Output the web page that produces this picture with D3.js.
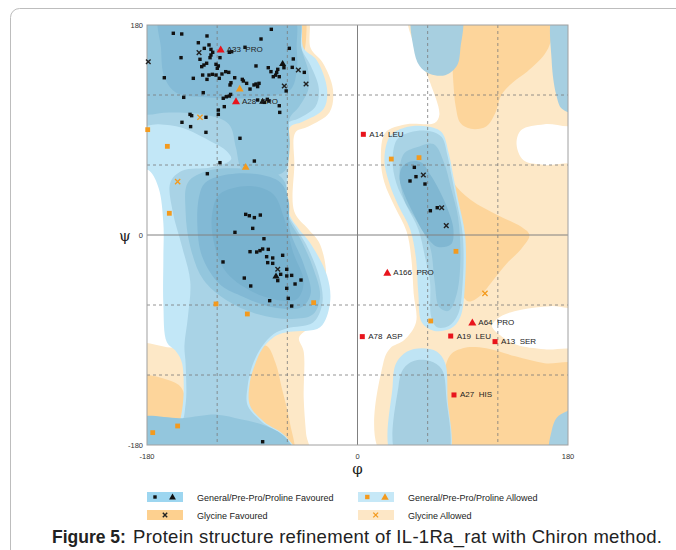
<!DOCTYPE html>
<html><head><meta charset="utf-8">
<script src="https://cdn.jsdelivr.net/npm/d3@7"></script>
<style>
body{margin:0;background:#fff;}
svg{font-family:"Liberation Sans",Arial,sans-serif;}
.lbl{white-space:pre;}
</style></head><body>
<svg id="chart" width="676" height="550"></svg>
<script>
// ---------- data (phi, psi in degrees) ----------
const generalFavoured = [
 [-157.5,172.9],[-150.3,172.3],[-128.7,170.6],[-73.7,176.3],[-136.1,164.8],[-82.5,168],[-127,162.9],[-131,160],
 [-125.3,159.1],[-123.8,156.6],[-150.9,152],[-134.7,150.6],[-125.3,154.3],[-126.1,152],[-96.2,160.9],
 [-109.6,156.6],[-107.6,157.1],[-117.6,152],[-131.3,145.7],[-133.2,144.3],[-129,147.2],[-121,146.3],[-119,144.9],
 [-119.9,142.9],[-112.7,140],[-115.9,138],[-110.1,139.4],[-132.4,137.1],[-127,137.1],[-124.1,137.7],[-121,137.1],
 [-118.2,134.3],[-165.2,134.8],[-140.4,134.3],[-128.7,133.4],[-105,134.8],[-108.2,130.5],[-109,128.6],
 [-98.5,133.4],[-97.6,132],[-94.8,130],[-88.5,128.6],[-86.8,129.4],[-85.4,127.2],[-84.2,130],[-91.9,125.1],
 [-131.9,122],[-148.6,118],[-112.2,118.5],[-109.6,119.1],[-108.5,120.5],[-114.8,117.2],[-113.9,110],[-119,107.1],
 [-85.4,115.7],[-79.7,113.7],[-77.1,116.3],[-75.8,114.8],[-66.9,110.8],[-66.5,105.1],[-61,123.5],
 [-58.3,160],[-54.9,150.9],[-55.8,143.7],[-45.5,139.4],[-76.3,143.4],[-74,140],[-72,135.7],[-70,137],
 [-69.1,139.4],[-66.9,135.7],[-68.2,142],[-62.9,143.4],[-86.8,144.9],[-143.2,103.4],[-141.8,102.3],[-129.6,100.9],
 [-150.1,96.6],[-142.7,92.9],[-129.6,88],[-119,103.4],[-100.5,82.9],[-117.6,62],[-88.2,63.4],[-128.4,52.5],
 [-95.6,17.7],[-92.5,16.5],[-88.2,14.9],[-83.1,17.1],[-89.6,5.7],[-104.8,2.3],[-80,-3.2],[-91.9,-14.3],
 [-86.2,-14.6],[-83.4,-13.4],[-81.1,-12],[-76.3,-12.3],[-77.7,-18.6],[-72.5,-19.7],[-76.8,-23.7],[-72.5,-24.3],
 [-64,-17.4],[-115,-23.1],[-96.8,-36.9],[-91.3,-43.7],[-65.7,-33.7],[-68.2,-39.1],[-60.5,-29.4],[-60.5,-35.1],
 [-56.3,-34.6],[-53.4,-42],[-48.3,-38.6],[-60.5,-45.7],[-59.2,-54.3],[-56.3,-60.9],[-75.1,-56.3],[-81.1,-177.2],
 [48.6,58],[50,50],[44.9,46.3],[57.7,43.7],[62.3,20.8],[68.2,23.4]
];
const prolineFavoured = [[-64,147.2],[-81.1,114.9],[-69.7,-34.9]];
const glycineFavoured = [[-178.9,148.5],[-135.5,156.3],[-62.6,127.7],[-50.6,141.4],[-44,129.4],[-68.2,-29.4],[56.3,51.4],[72,23.4],[75.9,8]];
const generalAllowed = [[-179.4,90.3],[-162.6,76],[-160.9,18.6],[-121,-59.1],[-94.2,-67.7],[-37.5,-58],[-153.8,-163.7],[-175.1,-169.4],[28.9,65.1],[52.6,66.3],[84.2,-14],[62.6,-73.7]];
const prolineAllowed = [[-100.7,125.7],[-95.6,58.5]];
const glycineAllowed = [[-134.7,100.9],[-153.8,45.7],[109,-50]];
const outlierSquares = [[5,86.3,"A14  LEU"],[4.1,-87.1,"A78  ASP"],[79.7,-86.6,"A19  LEU"],[117.6,-91.4,"A13  SER"],[82.5,-137.1,"A27  HIS"]];
const outlierTriangles = [[-117,159.1,"A33  PRO"],[-103.9,114.8,"A28  PRO"],[25.5,-32.3,"A166  PRO"],[98.2,-74.8,"A64  PRO"]];
const axisTicks = [-180,0,180];
const gridLines = [-120,-60,60,120];

// ---------- region outlines (phi, psi) ----------
const glyAllowedRight = [[45,190],[190,190],[190,96],[160,95],[140,90],[136,78],[142,64],[160,60],[190,58],[190,-60],[165,-61],[140,-64],[122,-70],[115,-78],[122,-86],[136,-94],[160,-98],[190,-101],[190,-190],[22,-190],[22,-110],[28,-97],[40,-90],[50,-75],[48,-50],[46,-20],[42,3],[32,24],[23,45],[20,65],[24,88],[42,95],[66,96],[70,103],[62,131],[51,157]];
const glyAllowedLeft = [[-190,-95],[-150,-95],[-120,-40],[-100,0],[-100,190],[-44,190],[-40,160],[-30,148],[-21,125],[-24,105],[-42,93],[-53,88],[-54,60],[-54,20],[-42,5],[-33,-6],[-27,-30],[-30,-60],[-40,-78],[-50,-88],[-46,-100],[-46,-140],[-44,-170],[-42,-190],[-190,-190]];
const glyFav = [
 [[81,190],[169,190],[165,165],[160,155],[145,140],[133,131],[123,120],[118,105],[110,93],[97,91],[88,96],[84,110],[82,130],[81,155]],
 [[76,62],[82,45],[97,30],[120,17],[140,7],[147,0],[140,-12],[128,-24],[115,-40],[105,-52],[95,-57],[89,-50],[86,-30],[80,-5],[77,25]],
 [[78,-190],[78,-105],[90,-97],[110,-97],[135,-104],[160,-110],[190,-112],[190,-190]],
 [[-190,-122],[-160,-125],[-150,-132],[-147,-160],[-160,-164],[-190,-166]],
 [[-90,-100],[-78,-95],[-70,-110],[-65,-130],[-58,-160],[-55,-190],[-82,-190],[-93,-150],[-93,-120]],
 [[-57,190],[-46,190],[-44,168],[-48,150],[-54,158]]
];
const blueRegions = [
 // [outline, colour]
 [[[-190,190],[-52,190],[-46,160],[-35,150],[-26,125],[-29,108],[-47,97],[-58,92],[-59,60],[-59,20],[-50,5],[-41,-6],[-26,-35],[-23.5,-58],[-32,-79],[-58,-83],[-69,-86],[-81,-97],[-88,-112],[-92,-126],[-92,-146],[-80,-160],[-62,-172],[-52,-190],[-190,-190],[-190,-166],[-155,-163],[-150,-150],[-150,-110],[-155,-100],[-163,-92],[-166,-60],[-166,-20],[-166,10],[-170,40],[-178,55],[-190,58]], "#c2e7f7"],
 [[[-190,190],[-52,190],[-48,160],[-40,145],[-33,125],[-36,110],[-50,100],[-60,95],[-60,60],[-60,20],[-52,5],[-44,-8],[-33,-35],[-30,-58],[-38,-75],[-60,-80],[-72,-85],[-82,-96],[-90,-112],[-94,-130],[-94,-146],[-82,-160],[-64,-172],[-54,-190],[-190,-190],[-190,-166],[-152,-162],[-147,-145],[-147,-110],[-148,-95],[-145,-70],[-143,-40],[-150,-10],[-158,20],[-160,45],[-150,55],[-125,58],[-108,65],[-112,72],[-125,80],[-150,92],[-170,95],[-190,95]], "#a9d3e6"],
 [[[-190,190],[-52,190],[-48,160],[-42,140],[-42,125],[-50,110],[-58,100],[-58,75],[-62,55],[-75,50],[-92,50],[-100,58],[-104,75],[-110,95],[-130,103],[-160,105],[-190,106]], "#93c6dd"],
 [[[-168,190],[-56,190],[-52,160],[-52,140],[-57,125],[-70,120],[-100,117],[-130,118],[-155,122],[-165,135],[-168,160]], "#84bbd7"],
 [[[-145,45],[-128,55],[-100,57],[-72,54],[-62,45],[-59,15],[-48,-5],[-38,-28],[-32,-52],[-38,-68],[-56,-72],[-85,-68],[-112,-56],[-132,-38],[-143,-10],[-147,20]], "#93c6dd"],
 [[[-130,45],[-110,52],[-85,52],[-66,45],[-59,30],[-58,5],[-46,-25],[-40,-50],[-48,-62],[-72,-62],[-100,-52],[-118,-42],[-133,-18],[-137,10],[-135,35]], "#82b9d5"],
 [[[-118,35],[-92,42],[-72,35],[-63,15],[-55,-15],[-46,-40],[-52,-55],[-72,-55],[-98,-44],[-115,-28],[-124,0],[-124,20]], "#78b2cf"],
 [[[-190,-158],[-150,-157],[-120,-154],[-100,-158],[-80,-163],[-62,-173],[-54,-190],[-190,-190]], "#93c6dd"],
 [[[40,92],[60,93],[72,88],[78,70],[82,50],[86,30],[92,0],[92,-40],[88,-70],[80,-80],[65,-82],[55,-75],[52,-50],[50,-20],[45,5],[35,25],[27,45],[23,65],[28,85]], "#c0e6f6"],
 [[[45,88],[62,89],[72,84],[77,68],[81,48],[85,28],[90,0],[90,-40],[86,-68],[78,-78],[68,-79],[63,-70],[62,-40],[58,-20],[52,5],[42,25],[33,45],[30,65],[34,82]], "#a9d3e5"],
 [[[50,75],[65,78],[74,62],[80,40],[86,15],[88,-20],[85,-50],[78,-65],[70,-62],[66,-40],[62,-10],[52,10],[40,30],[36,55],[40,70]], "#95c6dc"],
 [[[38,58],[45,63],[55,62],[62,52],[68,42],[76,25],[82,5],[80,-8],[68,-10],[58,0],[48,18],[40,35],[36,48]], "#80b7d2"],
 [[[48,190],[88,190],[88,160],[85,145],[75,137],[62,138],[53,145],[48,160]], "#a7cfe0"],
 [[[30,-190],[30,-130],[33,-110],[42,-100],[55,-97],[68,-100],[75,-110],[77,-140],[77,-190]], "#bfe4f4"],
 [[[34,-190],[35,-130],[39,-115],[48,-108],[62,-108],[72,-115],[76,-140],[76,-190]], "#a6cfe1"],
 [[[190,-150],[172,-155],[166,-168],[165,-190],[190,-190]], "#a6cfe1"],
 [[[168,190],[190,190],[190,105],[175,108],[170,120],[166,150]], "#a6cfe1"]
];

// ---------- drawing ----------
const svg = d3.select("#chart");
const x = d3.scaleLinear().domain([-180,180]).range([147,568]);
const y = d3.scaleLinear().domain([-180,180]).range([445,25]);

// outer frame
svg.append("rect").attr("x",10.5).attr("y",8.5).attr("width",720).attr("height",620).attr("rx",9)
  .attr("fill","none").attr("stroke","#bdbdbd").attr("stroke-width",1);

svg.append("clipPath").attr("id","plotclip").append("rect")
  .attr("x",x(-180)).attr("y",y(180)).attr("width",x(180)-x(-180)).attr("height",y(-180)-y(180));

const plot = svg.append("g").attr("clip-path","url(#plotclip)");
plot.append("rect").attr("x",x(-180)).attr("y",y(180)).attr("width",x(180)-x(-180)).attr("height",y(-180)-y(180)).attr("fill","#fff");

const shape = d3.line().x(d=>x(d[0])).y(d=>y(d[1])).curve(d3.curveCatmullRomClosed.alpha(0.5));

plot.append("path").attr("d",shape(glyAllowedRight)).attr("fill","#fde8c7");
plot.append("path").attr("d",shape(glyAllowedLeft)).attr("fill","#fde8c7");
glyFav.forEach(r=>plot.append("path").attr("d",shape(r)).attr("fill","#fdd59b"));
blueRegions.forEach(r=>plot.append("path").attr("d",shape(r[0])).attr("fill",r[1]));

// grid
const grid = svg.append("g");
gridLines.forEach(v=>{
  grid.append("line").attr("x1",x(v)).attr("x2",x(v)).attr("y1",y(180)).attr("y2",y(-180))
    .attr("stroke","#7a7a7a").attr("stroke-width",0.8).attr("stroke-dasharray","3,3");
  grid.append("line").attr("y1",y(v)).attr("y2",y(v)).attr("x1",x(-180)).attr("x2",x(180))
    .attr("stroke","#7a7a7a").attr("stroke-width",0.8).attr("stroke-dasharray","3,3");
});
grid.append("line").attr("x1",x(0)).attr("x2",x(0)).attr("y1",y(180)).attr("y2",y(-180)).attr("stroke","#808080").attr("stroke-width",1);
grid.append("line").attr("y1",y(0)).attr("y2",y(0)).attr("x1",x(-180)).attr("x2",x(180)).attr("stroke","#808080").attr("stroke-width",1);
svg.append("rect").attr("x",x(-180)).attr("y",y(180)).attr("width",x(180)-x(-180)).attr("height",y(-180)-y(180))
  .attr("fill","none").attr("stroke","#a0a0a0").attr("stroke-width",1);

// axes labels
const ax = svg.append("g").attr("font-size","7.5px").attr("fill","#333");
axisTicks.forEach(t=>{
  ax.append("text").attr("x",x(t)).attr("y",y(-180)+14).attr("text-anchor","middle").text(t);
  ax.append("text").attr("x",x(-180)-4).attr("y",y(t)+3).attr("text-anchor","end").text(t);
});
svg.append("text").attr("x",125).attr("y",241).attr("text-anchor","middle").attr("font-size","15px")
  .attr("font-family","DejaVu Serif, serif").attr("fill","#222").text("ψ");
svg.append("text").attr("x",x(0)).attr("y",474).attr("text-anchor","middle").attr("font-size","15px")
  .attr("font-family","DejaVu Serif, serif").attr("fill","#222").text("φ");

// markers
const pts = svg.append("g");
function squares(data, s, col){
  pts.selectAll(null).data(data).enter().append("rect")
    .attr("x",d=>x(d[0])-s/2).attr("y",d=>y(d[1])-s/2).attr("width",s).attr("height",s).attr("fill",col);
}
function tris(data, size, col){
  pts.selectAll(null).data(data).enter().append("path")
    .attr("d",d3.symbol().type(d3.symbolTriangle).size(size))
    .attr("transform",d=>`translate(${x(d[0])},${y(d[1])+0.8})`).attr("fill",col);
}
function crosses(data, r, col, w){
  pts.selectAll(null).data(data).enter().append("path")
    .attr("d",`M${-r},${-r}L${r},${r}M${-r},${r}L${r},${-r}`)
    .attr("transform",d=>`translate(${x(d[0])},${y(d[1])})`).attr("stroke",col).attr("stroke-width",w).attr("fill","none");
}
squares(generalFavoured,3.4,"#111");
tris(prolineFavoured,22,"#111");
crosses(glycineFavoured,2.3,"#222",1.4);
squares(generalAllowed,4.8,"#f39a1e");
tris(prolineAllowed,26,"#f39a1e");
crosses(glycineAllowed,2.6,"#f39a1e",1.3);
squares(outlierSquares,5,"#e8141c");
tris(outlierTriangles,28,"#e8141c");

const labs = svg.append("g").attr("font-size","8px").attr("fill","#222");
outlierSquares.concat(outlierTriangles).forEach(d=>{
  labs.append("text").attr("class","lbl").attr("x",x(d[0])+6).attr("y",y(d[1])+2.5).text(d[2]);
});

// legend
const legend = [
 {x:147, y:492, fill:"#9dd6f0", text:"General/Pre-Pro/Proline Favoured"},
 {x:358, y:492, fill:"#c6e8f7", text:"General/Pre-Pro/Proline Allowed"},
 {x:147, y:510, fill:"#fdd08f", text:"Glycine Favoured"},
 {x:358, y:510, fill:"#fde7c6", text:"Glycine Allowed"}
];
const lg = svg.append("g");
legend.forEach(l=>{
  lg.append("rect").attr("x",l.x).attr("y",l.y).attr("width",36).attr("height",10).attr("fill",l.fill);
  lg.append("text").attr("x",l.x+50).attr("y",l.y+8.5).attr("font-size","9px").attr("fill","#222").text(l.text);
});
lg.append("rect").attr("x",155-1.7).attr("y",497-1.7).attr("width",3.4).attr("height",3.4).attr("fill","#111");
lg.append("path").attr("d",d3.symbol().type(d3.symbolTriangle).size(20)).attr("transform","translate(172.5,497.5)").attr("fill","#111");
lg.append("rect").attr("x",367.3-2.2).attr("y",497-2.2).attr("width",4.4).attr("height",4.4).attr("fill","#f39a1e");
lg.append("path").attr("d",d3.symbol().type(d3.symbolTriangle).size(24)).attr("transform","translate(385,497.5)").attr("fill","#f39a1e");
lg.append("path").attr("d","M-2.2,-2.2L2.2,2.2M-2.2,2.2L2.2,-2.2").attr("transform","translate(165,515)").attr("stroke","#222").attr("stroke-width",1.4);
lg.append("path").attr("d","M-2.4,-2.4L2.4,2.4M-2.4,2.4L2.4,-2.4").attr("transform","translate(375.7,515)").attr("stroke","#f39a1e").attr("stroke-width",1.3);

// caption
svg.append("text").attr("x",52).attr("y",543).attr("font-size","17.5px").attr("font-weight","bold").attr("fill","#222").text("Figure 5:");
svg.append("text").attr("x",133).attr("y",543).attr("font-size","18.5px").attr("fill","#222")
  .attr("textLength",529).attr("lengthAdjust","spacing")
  .text("Protein structure refinement of IL-1Ra_rat with Chiron method.");
</script>
</body></html>
